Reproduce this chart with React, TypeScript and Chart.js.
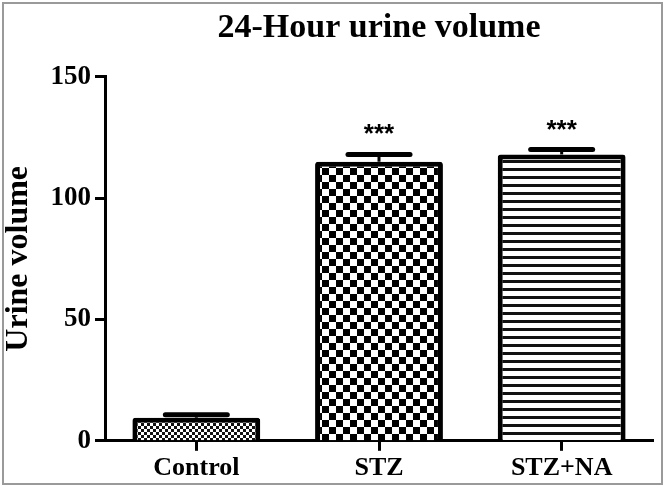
import React, { useEffect, useRef } from 'react';
import { Chart, registerables } from 'chart.js';

Chart.register(...registerables);

const categories = ['Control', 'STZ', 'STZ+NA'];
const means = [9.5, 115, 118];
const sems = [1.2, 3, 2];
const significance = ['', '***', '***'];
const yTickValues = [0, 50, 100, 150];
const titleText = '24-Hour urine volume';
const yAxisTitle = 'Urine volume';

function makePattern(kind: string): CanvasPattern | string {
  const c = document.createElement('canvas');
  const g = c.getContext('2d');
  if (!g) return '#888';
  if (kind === 'fine') {
    c.width = 6; c.height = 6;
    g.fillStyle = '#fff'; g.fillRect(0, 0, 6, 6);
    g.fillStyle = '#111';
    g.fillRect(0, 0, 3, 3); g.fillRect(3, 3, 3, 3);
  } else if (kind === 'coarse') {
    c.width = 14; c.height = 14;
    g.fillStyle = '#fff'; g.fillRect(0, 0, 14, 14);
    g.fillStyle = '#000';
    g.fillRect(0, 0, 7, 7); g.fillRect(7, 7, 7, 7);
  } else {
    c.width = 8; c.height = 8;
    g.fillStyle = '#fff'; g.fillRect(0, 0, 8, 8);
    g.fillStyle = '#111';
    g.fillRect(0, 0, 8, 3);
  }
  const p = g.createPattern(c, 'repeat');
  return p || '#888';
}

export default function App() {
  const ref = useRef<HTMLCanvasElement | null>(null);

  useEffect(() => {
    if (!ref.current) return;
    const patterns = [makePattern('fine'), makePattern('coarse'), makePattern('lines')];

    const errorPlugin = {
      id: 'errorBars',
      afterDatasetsDraw(chart: any) {
        const ctx = chart.ctx;
        const meta = chart.getDatasetMeta(0);
        const y = chart.scales.y;
        ctx.save();
        meta.data.forEach((bar: any, i: number) => {
          const x = bar.x;
          const top = y.getPixelForValue(means[i]);
          const eTop = y.getPixelForValue(means[i] + sems[i]);
          ctx.strokeStyle = '#000';
          ctx.lineWidth = 3;
          ctx.beginPath();
          ctx.moveTo(x, top);
          ctx.lineTo(x, eTop);
          ctx.stroke();
          ctx.lineWidth = 5;
          ctx.lineCap = 'round';
          ctx.beginPath();
          ctx.moveTo(x - 31, eTop);
          ctx.lineTo(x + 31, eTop);
          ctx.stroke();
          ctx.lineCap = 'butt';
          if (significance[i]) {
            ctx.fillStyle = '#000';
            ctx.font = 'bold 26px "Liberation Sans", Arial, sans-serif';
            ctx.textAlign = 'center';
            ctx.textBaseline = 'alphabetic';
            ctx.fillText(significance[i], x, eTop - 12);
          }
        });
        ctx.restore();
      },
    };

    const framePlugin = {
      id: 'frame',
      afterDraw(chart: any) {
        const ctx = chart.ctx;
        ctx.save();
        ctx.strokeStyle = '#9a9a9a';
        ctx.lineWidth = 2;
        ctx.strokeRect(3, 3, 659, 481);
        ctx.restore();
      },
    };

    const chart = new Chart(ref.current, {
      type: 'bar',
      data: {
        labels: categories,
        datasets: [
          {
            data: means,
            backgroundColor: patterns as any,
            borderColor: '#000',
            borderWidth: 5,
            borderRadius: 3,
            barPercentage: 0.7,
            categoryPercentage: 1,
          },
        ],
      },
      options: {
        responsive: false,
        animation: false,
        layout: { padding: { left: 0, right: 13, top: 0, bottom: 2 } },
        plugins: {
          legend: { display: false },
          tooltip: { enabled: false },
          title: {
            display: true,
            text: titleText,
            fullSize: false,
            color: '#000',
            font: { family: '"Liberation Serif", "Times New Roman", serif', size: 34, weight: 'bold' },
            padding: { top: 8, bottom: 28 },
          },
        },
        scales: {
          x: {
            type: 'category',
            grid: {
              display: true,
              drawOnChartArea: false,
              drawTicks: true,
              tickLength: 10,
              tickWidth: 3,
              tickColor: '#000',
              offset: false,
            },
            border: { display: true, color: '#000', width: 3 },
            ticks: {
              color: '#000',
              maxRotation: 0,
              autoSkip: false,
              padding: 2,
              font: { family: '"Liberation Serif", "Times New Roman", serif', size: 26, weight: 'bold' },
            },
          },
          y: {
            min: 0,
            max: 150,
            afterFit(scale: any) {
              scale.width = 105;
            },
            afterBuildTicks(scale: any) {
              scale.ticks = yTickValues.map((v) => ({ value: v }));
            },
            grid: {
              display: true,
              drawOnChartArea: false,
              drawTicks: true,
              tickLength: 10,
              tickWidth: 3,
              tickColor: '#000',
            },
            border: { display: true, color: '#000', width: 3 },
            ticks: {
              color: '#000',
              padding: 4,
              autoSkip: false,
              font: { family: '"Liberation Serif", "Times New Roman", serif', size: 27, weight: 'bold' },
            },
            title: {
              display: true,
              text: yAxisTitle,
              color: '#000',
              padding: { top: 0, bottom: 0 },
              font: { family: '"Liberation Serif", "Times New Roman", serif', size: 32, weight: 'bold' },
            },
          },
        },
      },
      plugins: [errorPlugin, framePlugin],
    });
    return () => chart.destroy();
  }, []);

  return (
    <div style={{ position: 'absolute', left: 0, top: 0, width: 666, height: 488, background: '#fff' }}>
      <canvas ref={ref} width={666} height={488} style={{ display: 'block' }} />
    </div>
  );
}
